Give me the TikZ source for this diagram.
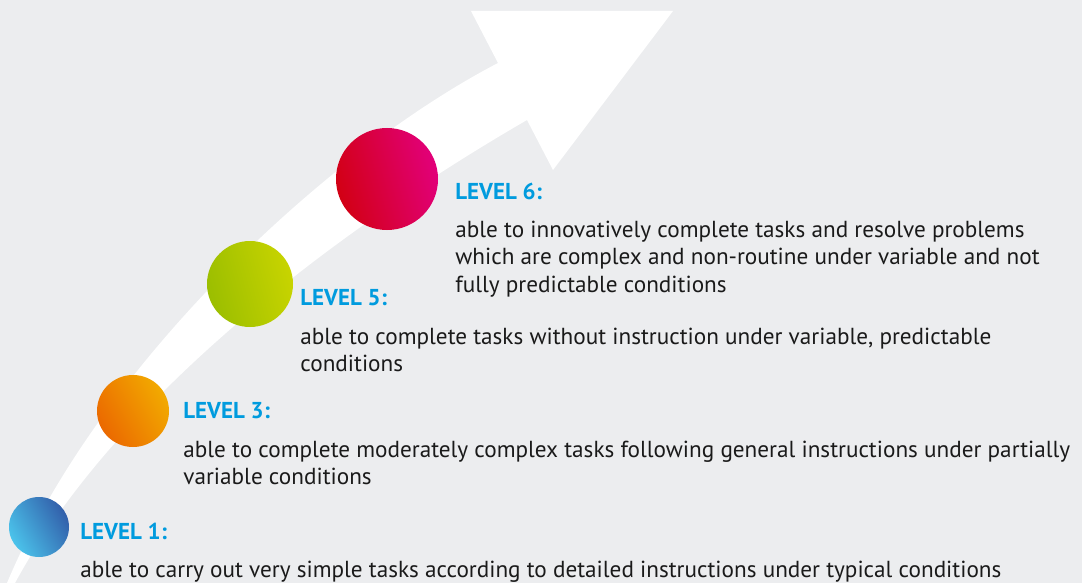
\documentclass[tikz,border=0pt]{standalone}
\usepackage{fontspec}
\setmainfont{PT Sans}
\usepackage{tikz}
\usetikzlibrary{positioning, calc}
\definecolor{bggray}{RGB}{236,237,239}
\definecolor{lvlblue}{RGB}{0,155,222}
\definecolor{txtdark}{RGB}{26,26,26}
\definecolor{redA}{RGB}{210,0,20}
\definecolor{redB}{RGB}{226,0,122}
\definecolor{greenA}{RGB}{155,190,0}
\definecolor{greenB}{RGB}{200,212,0}
\definecolor{orangeA}{RGB}{235,105,0}
\definecolor{orangeB}{RGB}{242,170,0}
\definecolor{blueA}{RGB}{75,195,235}
\definecolor{blueB}{RGB}{50,95,170}
\tikzset{
  ball/.style={circle, inner sep=0pt},
  lvl/.style={inner sep=0pt, anchor=west, text=lvlblue,
    font=\fontsize{23}{27}\selectfont\bfseries},
  desc/.style={inner sep=0pt, align=left, text=txtdark,
    font=\fontsize{23.2}{27.5}\selectfont}
}

\begin{document}
\begin{tikzpicture}[x=1pt, y=-1pt]
  % Canvas
  \fill[bggray] (0,0) rectangle (1082,583);
  \useasboundingbox (0,0) rectangle (1082,583);

  % Rising arrow
  \fill[white] (7,583) .. controls (97,368) and (325,153) .. (498,63)
    -- (471,11) -- (673,11) -- (553,170) -- (527,120)
    .. controls (349,223) and (119,391) .. (15,583) -- cycle;

  % Nodes
  \node[ball, minimum size=60pt, left color=blueA, right color=blueB, shading angle=120] (c1) at (39,527) {};
  \node[ball, minimum size=72pt, left color=orangeA, right color=orangeB, shading angle=120] (c3) at (133,411) {};
  \node[ball, minimum size=86pt, left color=greenA, right color=greenB, shading angle=105] (c5) at (250,284) {};
  \node[ball, minimum size=102pt, left color=redA, right color=redB, shading angle=105] (c6) at (387,179) {};

  \node[lvl, right=11pt of c1, yshift=-4pt] (l1) {LEVEL 1:};
  \node[lvl, right=14pt of c3] (l3) {LEVEL 3:};
  \node[lvl, right=7pt of c5, yshift=-14pt] (l5) {LEVEL 5:};
  \node[lvl, right=17pt of c6, yshift=-12pt] (l6) {LEVEL 6:};

  \node[desc, below=21pt of l1.south west, anchor=north west] (d1)
    {able to carry out very simple tasks according to detailed instructions under typical conditions};
  \node[desc, below=21pt of l3.south west, anchor=north west] (d3)
    {able to complete moderately complex tasks following general instructions under partially\\
     variable conditions};
  \node[desc, below=21pt of l5.south west, anchor=north west] (d5)
    {able to complete tasks without instruction under variable, predictable\\
     conditions};
  \node[desc, below=21pt of l6.south west, anchor=north west] (d6)
    {able to innovatively complete tasks and resolve problems\\
     which are complex and non-routine under variable and not\\
     fully predictable conditions};
\end{tikzpicture}
\end{document}
